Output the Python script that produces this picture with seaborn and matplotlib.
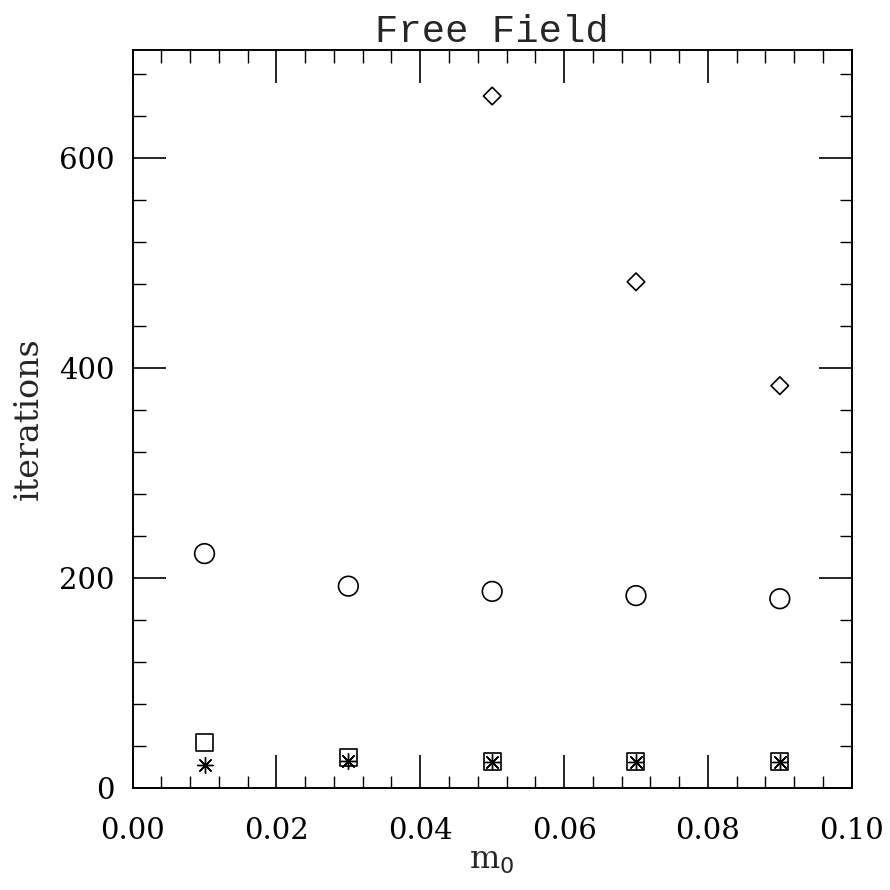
import numpy as np
import pandas as pd
import matplotlib
matplotlib.use("Agg")
import matplotlib.pyplot as plt
import seaborn as sns
from matplotlib.ticker import MultipleLocator, FormatStrFormatter

m0 = [0.01, 0.03, 0.05, 0.07, 0.09]

diamond_x = [0.05, 0.07, 0.09]
diamond_y = [659, 482, 383]
circle_y = [223, 192, 187, 183, 180]
square_y = [43, 29, 25, 25, 25]
star_y = [22, 25, 24, 24, 24]

sns.set_style("ticks")
plt.rcParams["font.family"] = ["DejaVu Serif"]

fig = plt.figure(figsize=(8.9, 8.9), dpi=100)
ax = fig.add_axes([0.149, 0.115, 0.808, 0.829])

sns.scatterplot(x=diamond_x, y=diamond_y, marker="D", s=80, facecolor="none",
                edgecolor="black", linewidth=1.2, ax=ax)
sns.scatterplot(x=m0, y=circle_y, marker="o", s=200, facecolor="none",
                edgecolor="black", linewidth=1.2, ax=ax)
sns.scatterplot(x=m0, y=square_y, marker="s", s=150, facecolor="none",
                edgecolor="black", linewidth=1.2, ax=ax)
sns.scatterplot(x=m0, y=star_y, marker=(8, 2, 0), s=130, color="black",
                linewidth=1.0, ax=ax)

ax.set_xlim(0, 0.1)
ax.set_ylim(0, 703)
ax.xaxis.set_major_locator(MultipleLocator(0.02))
ax.xaxis.set_minor_locator(MultipleLocator(0.004))
ax.yaxis.set_major_locator(MultipleLocator(200))
ax.yaxis.set_minor_locator(MultipleLocator(40))
ax.xaxis.set_major_formatter(FormatStrFormatter("%.2f"))

ax.tick_params(which="both", direction="in", top=True, right=True, colors="black")
ax.tick_params(which="major", length=24, width=1.2, labelsize=21)
ax.tick_params(which="minor", length=9, width=1.0)
ax.tick_params(axis="x", which="major", pad=21)
ax.tick_params(axis="y", which="major", pad=13)
for sp in ax.spines.values():
    sp.set_linewidth(1.4)
    sp.set_color("black")

ax.set_xlabel("m$_0$", fontsize=23, labelpad=0)
ax.set_ylabel("iterations", fontsize=24, labelpad=10)
ax.set_title("Free Field", fontsize=28, family=["Liberation Mono"], pad=2)

fig.savefig("out.png", dpi=100, facecolor="white")
